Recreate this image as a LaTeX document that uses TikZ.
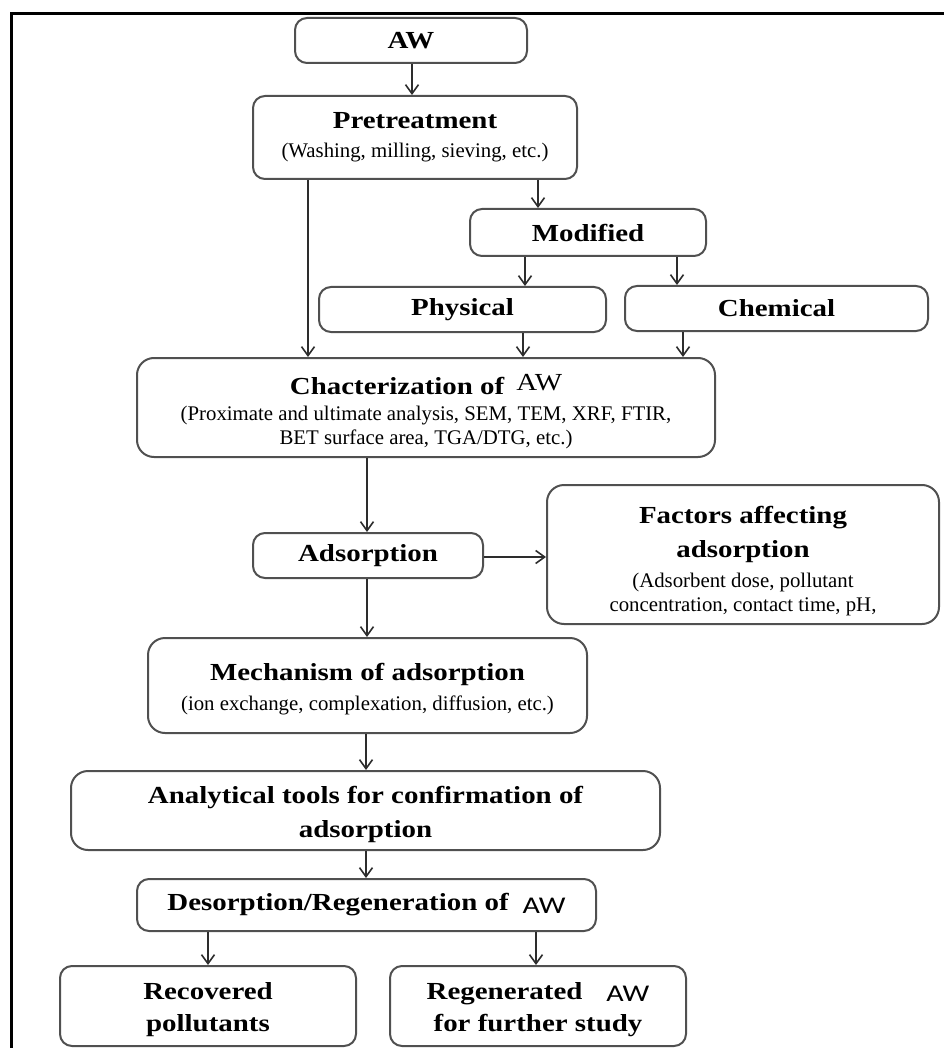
\documentclass[tikz,border=0pt]{standalone}
\usepackage{fontspec}
\setmainfont{Liberation Serif}[FakeStretch=1.18]
\newfontfamily\plainserif{Liberation Serif}
\newfontfamily\awsans{Carlito}[FakeStretch=1.25]
\usetikzlibrary{arrows.meta}
\definecolor{boxgray}{RGB}{80,80,80}
\definecolor{arrgray}{RGB}{45,45,45}
\newcommand\ttlfont{\rmfamily\fontsize{24.5}{24}\selectfont\bfseries}
\newcommand\subfont{\plainserif\fontsize{20.8}{24}\selectfont\mdseries\lineskiplimit=-100pt\relax}
\tikzset{
  box/.style={draw=boxgray, line width=2pt, rounded corners=12pt, inner sep=0pt,
    align=center, font=\subfont},
  bigbox/.style={box, rounded corners=17pt},
  arr/.style={draw=arrgray, line width=1.6pt, -{Straight Barb[length=9pt,width=13pt]}},
}
\begin{document}
\begin{tikzpicture}[x=1pt,y=-1pt]
\useasboundingbox (0,0) rectangle (944,1048);
\draw[black, line width=3pt] (11,1048) -- (11,14) -- (944,14);

\node[box, minimum width=232pt, minimum height=45pt] (aw) at (411,40.5) {\ttlfont AW};
\node[box, minimum width=324pt, minimum height=83pt] (pre) at (415,137.5)
  {{\ttlfont Pretreatment}\\[5pt](Washing, milling, sieving, etc.)};
\node[box, minimum width=236pt, minimum height=47pt] (mod) at (588,232.5) {\ttlfont Modified};
\node[box, minimum width=287pt, minimum height=45pt] (phys) at (462.5,309.5) {\ttlfont Physical};
\node[box, minimum width=303pt, minimum height=45pt] (chem) at (776.5,308.5) {\ttlfont Chemical};
\node[bigbox, minimum width=578pt, minimum height=99pt] (char) at (426,407.5)
  {{\ttlfont\rule{0pt}{28pt}Chacterization of\hspace{12pt}\raisebox{4pt}{\mdseries AW}}\\[2pt]
   (Proximate and ultimate analysis, SEM, TEM, XRF, FTIR,\\
   BET surface area, TGA/DTG, etc.)};
\node[box, minimum width=230pt, minimum height=45pt] (ads) at (368,555.5) {\ttlfont Adsorption};
\node[bigbox, minimum width=392pt, minimum height=139pt] (fac) at (743,554.5)
  {{\ttlfont\rule{0pt}{30pt}Factors affecting}\\[10pt]{\ttlfont adsorption}\\[6pt]
   (Adsorbent dose, pollutant\\[0pt]concentration, contact time, pH,};
\node[bigbox, minimum width=439pt, minimum height=95pt] (mech) at (367.5,685.5)
  {{\ttlfont\rule{0pt}{24pt}Mechanism of adsorption}\\[6pt](ion exchange, complexation, diffusion, etc.)};
\node[bigbox, minimum width=589pt, minimum height=79pt] (anal) at (365.5,810.5)
  {{\ttlfont\rule{0pt}{26pt}Analytical tools for confirmation of}\\[10pt]{\ttlfont adsorption}};
\node[box, minimum width=459pt, minimum height=52pt] (des) at (366.5,905)
  {\ttlfont Desorption/Regeneration of\hspace{14pt}\raisebox{-3pt}{\awsans\fontsize{24}{24}\selectfont\mdseries AW}};
\node[box, minimum width=296pt, minimum height=80pt] (rec) at (208,1006)
  {{\ttlfont\rule{0pt}{24pt}Recovered}\\[8pt]{\ttlfont pollutants}};
\node[box, minimum width=296pt, minimum height=80pt] (reg) at (538,1006)
  {{\ttlfont\rule{0pt}{24pt}Regenerated\hspace{24pt}\raisebox{-2pt}{\awsans\fontsize{24}{24}\selectfont\mdseries AW}}\\[8pt]{\ttlfont for further study}};

\coordinate (c412) at (412,0);
\coordinate (c308) at (308,0);
\coordinate (c538) at (538,0);
\coordinate (c525) at (525,0);
\coordinate (c677) at (677,0);
\coordinate (c523) at (523,0);
\coordinate (c683) at (683,0);
\coordinate (c367) at (367,0);
\coordinate (c366) at (366,0);
\coordinate (c208) at (208,0);
\coordinate (c536) at (536,0);
\coordinate (r557) at (0,557);

\draw[arr] (aw.south -| c412) -- (pre.north -| c412);
\draw[arr] (pre.south -| c308) -- (char.north -| c308);
\draw[arr] (pre.south -| c538) -- (mod.north -| c538);
\draw[arr] (mod.south -| c525) -- (phys.north -| c525);
\draw[arr] (mod.south -| c677) -- (chem.north -| c677);
\draw[arr] (phys.south -| c523) -- (char.north -| c523);
\draw[arr] (chem.south -| c683) -- (char.north -| c683);
\draw[arr] (char.south -| c367) -- (ads.north -| c367);
\draw[arr] (ads.east |- r557) -- (fac.west |- r557);
\draw[arr] (ads.south -| c367) -- (mech.north -| c367);
\draw[arr] (mech.south -| c366) -- (anal.north -| c366);
\draw[arr] (anal.south -| c366) -- (des.north -| c366);
\draw[arr] (des.south -| c208) -- (rec.north -| c208);
\draw[arr] (des.south -| c536) -- (reg.north -| c536);
\end{tikzpicture}
\end{document}
